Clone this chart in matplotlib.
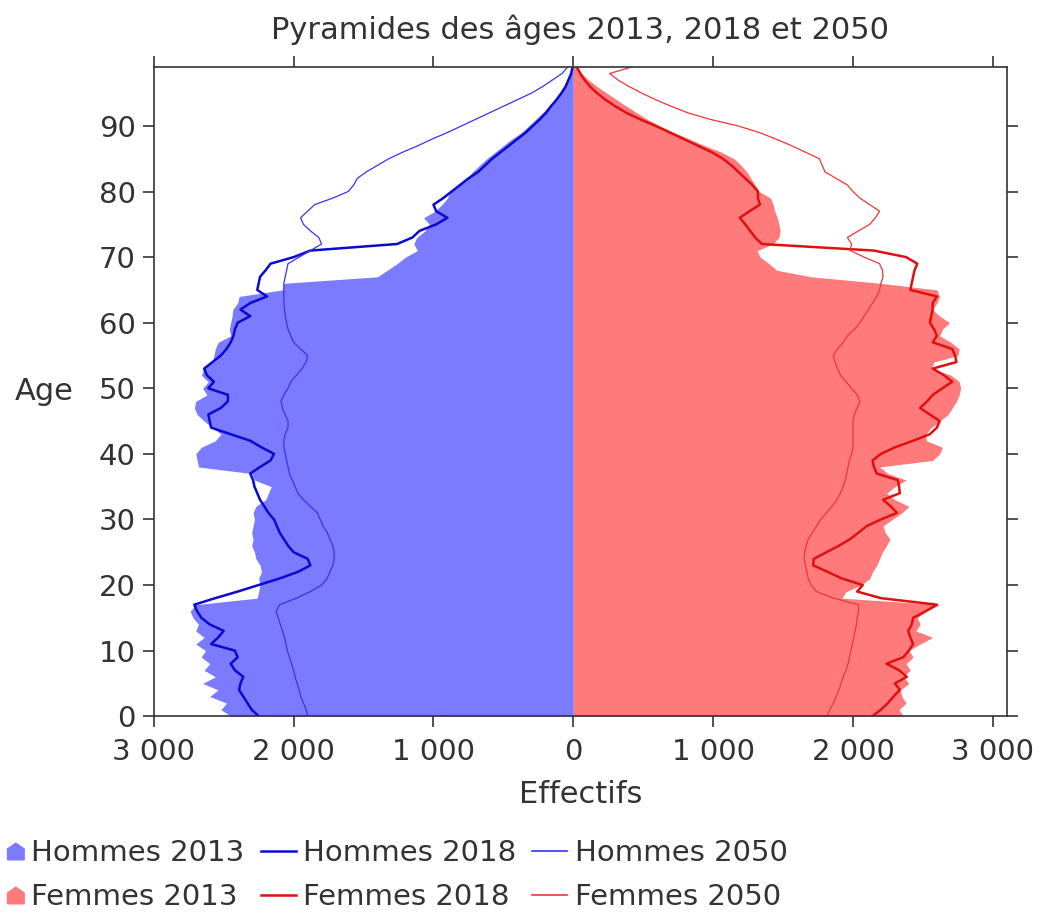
import matplotlib.pyplot as plt
import matplotlib.ticker as mticker
from matplotlib.lines import Line2D
import numpy as np

plt.rcParams['font.family'] = ['DejaVu Sans']

ages = np.arange(0, 100)

# Effectifs par âge
hommes_2013 = [
    2450, 2520, 2480, 2600, 2540, 2650, 2560, 2640, 2600, 2660,
    2630, 2700, 2640, 2700, 2680, 2720, 2740, 2700, 2260, 2250,
    2240, 2250, 2230, 2240, 2270, 2280, 2300, 2290, 2300, 2290,
    2280, 2290, 2270, 2200, 2180, 2160, 2280, 2300, 2680, 2690,
    2700, 2660, 2560, 2520, 2580, 2640, 2690, 2710, 2700, 2620,
    2650, 2610, 2660, 2640, 2580, 2570, 2560, 2540, 2450, 2460,
    2450, 2440, 2435, 2400, 2390, 2080, 2070, 1400, 1330, 1260,
    1200, 1115, 1140, 1120, 1060, 1030, 1070, 990, 940, 900,
    880, 820, 760, 720, 670, 620, 560, 500, 440, 370,
    320, 270, 220, 175, 135, 100, 70, 45, 25, 15]

hommes_2018 = [
    2250, 2300, 2330, 2360, 2390, 2380, 2360, 2420, 2450, 2400,
    2420, 2590, 2540, 2500, 2600, 2660, 2690, 2710, 2560, 2400,
    2250, 2100, 1970, 1880, 1900, 2000, 2040, 2070, 2100, 2120,
    2140, 2180, 2210, 2240, 2260, 2280, 2290, 2310, 2240, 2165,
    2140, 2230, 2310, 2450, 2590, 2600, 2610, 2520, 2470, 2470,
    2610, 2570, 2620, 2640, 2580, 2520, 2480, 2450, 2430, 2420,
    2400, 2310, 2380, 2310, 2190, 2260, 2250, 2240, 2200, 2165,
    2000, 1880, 1260, 1150, 1100, 980, 900, 980, 1000, 930,
    870, 810, 750, 680, 630, 580, 520, 460, 400, 340,
    290, 240, 195, 160, 120, 85, 55, 35, 15, 5]

hommes_2050 = [
    1900, 1910, 1930, 1950, 1960, 1975, 1990, 2000, 2015, 2030,
    2045, 2055, 2065, 2080, 2095, 2110, 2125, 2100, 1980, 1880,
    1800, 1760, 1740, 1720, 1710, 1710, 1720, 1740, 1760, 1790,
    1810, 1830, 1880, 1930, 1970, 1990, 2010, 2030, 2040, 2050,
    2060, 2070, 2070, 2060, 2040, 2040, 2060, 2080, 2090, 2070,
    2040, 2020, 1980, 1940, 1910, 1900, 1950, 2000, 2020, 2040,
    2050, 2060, 2065, 2070, 2070, 2070, 2070, 2060, 2050, 2040,
    1960, 1880, 1800, 1820, 1880, 1930, 1950, 1900, 1850, 1720,
    1610, 1570, 1545, 1480, 1400, 1320, 1220, 1110, 1010, 900,
    800, 700, 600, 500, 400, 300, 220, 150, 80, 40]

femmes_2013 = [
    2360, 2330, 2380, 2350, 2340, 2400, 2360, 2410, 2380, 2430,
    2400, 2480, 2570, 2450, 2480, 2460, 2520, 2620, 1920, 1950,
    2060, 2120, 2140, 2170, 2190, 2210, 2240, 2265, 2230, 2215,
    2280, 2350, 2400, 2300, 2240, 2300, 2380, 2250, 2190, 2570,
    2620, 2640, 2525, 2520, 2560, 2620, 2680, 2710, 2740, 2760,
    2770, 2760, 2700, 2560, 2580, 2750, 2760, 2700, 2620, 2640,
    2690, 2620, 2570, 2600, 2620, 2600, 2200, 1700, 1455, 1400,
    1335, 1315, 1430, 1470, 1480, 1470, 1460, 1440, 1430, 1410,
    1330, 1300, 1270, 1240, 1200, 1150, 1060, 940, 830, 720,
    620, 530, 455, 380, 310, 240, 170, 110, 60, 30]

femmes_2018 = [
    2140, 2200, 2250, 2290, 2335, 2300, 2385, 2330, 2240, 2360,
    2400, 2430, 2410, 2395, 2420, 2430, 2520, 2600, 2200, 2030,
    2070, 1920, 1820, 1715, 1720, 1810, 1900, 1980, 2040, 2100,
    2200, 2315, 2270, 2215, 2335, 2330, 2320, 2170, 2150, 2140,
    2200, 2300, 2430, 2550, 2600, 2620, 2550, 2480, 2530, 2570,
    2640, 2710, 2650, 2570, 2740, 2730, 2710, 2570, 2600, 2580,
    2550, 2560, 2570, 2570, 2600, 2410, 2420, 2430, 2440, 2460,
    2380, 2150, 1350, 1300, 1265, 1230, 1190, 1260, 1335, 1320,
    1320, 1280, 1230, 1180, 1130, 1070, 990, 890, 790, 690,
    590, 480, 380, 300, 230, 170, 120, 80, 50, 25]

femmes_2050 = [
    1815, 1835, 1860, 1880, 1900, 1915, 1930, 1950, 1965, 1975,
    1985, 1995, 2005, 2015, 2025, 2030, 2040, 2040, 1860, 1740,
    1700, 1680, 1670, 1660, 1650, 1655, 1665, 1680, 1710, 1740,
    1770, 1810, 1850, 1885, 1910, 1930, 1945, 1955, 1965, 1975,
    1990, 2000, 2000, 2000, 2000, 2000, 2010, 2030, 2050, 2030,
    1990, 1950, 1910, 1890, 1870, 1860, 1890, 1930, 1960, 2010,
    2050, 2080, 2110, 2140, 2170, 2190, 2200, 2215, 2210, 2190,
    2080, 1980, 1990, 1960, 2040, 2120, 2160, 2190, 2120, 2050,
    2000, 1960, 1880, 1800, 1780, 1760, 1660, 1560, 1450, 1330,
    1180, 980, 820, 700, 590, 490, 400, 320, 260, 420]

c_h13, c_f13 = '#7b7bff', '#ff7b7b'
c_h18, c_f18 = '#0a0ad0', '#e01010'
c_h50, c_f50 = '#3535f0', '#f03535'

fig = plt.figure(figsize=(10.39, 9.17), dpi=100)
ax = fig.add_axes([0.148, 0.219, 0.821, 0.708])

# hommes à gauche (valeurs négatives), femmes à droite
ax.fill_betweenx(ages, 0, -np.array(hommes_2013), color=c_h13, lw=0)
ax.fill_betweenx(ages, 0, femmes_2013, color=c_f13, lw=0)
ax.plot(-np.array(hommes_2018), ages, color=c_h18, lw=1.8)
ax.plot(-np.array(hommes_2050), ages, color=c_h50, lw=0.9)
ax.plot(femmes_2018, ages, color=c_f18, lw=1.8)
ax.plot(femmes_2050, ages, color=c_f50, lw=0.9)

ax.set_xlim(-3000, 3100)
ax.set_ylim(0, 99)
ax.set_xticks(np.arange(-3000, 3001, 1000))
ax.set_yticks(np.arange(0, 91, 10))
ax.xaxis.set_major_formatter(mticker.FuncFormatter(
    lambda v, p: '{:,.0f}'.format(abs(v)).replace(',', ' ')))

ax.tick_params(direction='out', length=8, width=1.2, labelsize=21,
               colors='#333333', top=True, right=True)
ax.tick_params(axis='x', pad=8)
ax.tick_params(axis='y', pad=5)
for s in ax.spines.values():
    s.set_color('#333333')
    s.set_linewidth(1.2)

ax.set_title('Pyramides des âges 2013, 2018 et 2050', fontsize=22,
             color='#333333', pad=20)
ax.set_xlabel('Effectifs', fontsize=22, color='#333333', labelpad=10)
ax.set_ylabel('Age', fontsize=22, color='#333333', rotation=0, va='center')
ax.yaxis.set_label_coords(-0.128, 0.5)

# symbole "maison" pour les aires, décalé à droite du centre de la poignée
house = [(0, -1), (2, -1), (2, 0.3), (1, 1), (0, 0.3), (0, -1)]
handles = [
    Line2D([], [], ls='none', marker=house, markersize=24, color=c_h13,
           label='Hommes 2013'),
    Line2D([], [], ls='none', marker=house, markersize=24, color=c_f13,
           label='Femmes 2013'),
    Line2D([], [], color=c_h18, lw=1.8, label='Hommes 2018'),
    Line2D([], [], color=c_f18, lw=1.8, label='Femmes 2018'),
    Line2D([], [], color=c_h50, lw=1.2, label='Hommes 2050'),
    Line2D([], [], color=c_f50, lw=1.2, label='Femmes 2050'),
]
fig.legend(handles=handles, ncol=3, loc='center left', numpoints=1,
           bbox_to_anchor=(-0.0105, 0.046), frameon=False, borderpad=0,
           borderaxespad=0, fontsize=21, labelcolor='#333333',
           handlelength=1.2, handletextpad=0.25, columnspacing=0.55,
           labelspacing=0.55)

fig.savefig('out.png', dpi=100)
